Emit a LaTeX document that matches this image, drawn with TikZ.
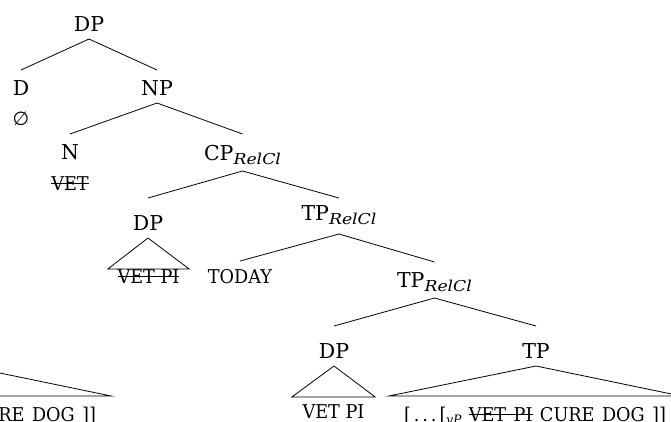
\documentclass[tikz,border=0pt]{standalone}
\usepackage{fontspec}
\setmainfont{DejaVu Serif}
\newfontfamily\symfont{DejaVu Sans}
\newsavebox\stbox
\newcommand\strk[1]{\sbox\stbox{#1}\rlap{\usebox\stbox}\rule[0.34em]{\wd\stbox}{0.8pt}}
\newcommand\lfnt{\fontsize{19}{22}\selectfont}
\newcommand\lv[1]{\scalebox{0.93}[1]{\lfnt #1}}
\newcommand\ws{\hspace{0.42em}}
\newcommand\sbs[1]{\raisebox{-4pt}{\scalebox{1.15}[1]{\fontsize{15}{16}\selectfont\itshape #1}}}
\newcommand\sbv[1]{\raisebox{-3pt}{\fontsize{13}{14}\selectfont\itshape #1}}
\tikzset{
  lbl/.style={anchor=base, inner sep=0pt, font=\fontsize{20.5}{24}\selectfont},
  lf/.style={anchor=base, inner sep=0pt},
  edge/.style={line width=0.8pt, line join=miter},
}
\begin{document}
\begin{tikzpicture}[x=1pt, y=-1pt]
\useasboundingbox (0,0) rectangle (671,421);
\clip (0,0) rectangle (671,421);
% labels
\node[lbl] (dp0) at (89,31) {DP};
\node[lbl] (d) at (21,95) {D};
\node[lf] (null) at (21,125) {\symfont\fontsize{19}{22}\selectfont ∅};
\node[lbl] (np) at (157,95) {NP};
\node[lbl] (n) at (70,159) {N};
\node[lf] (vet) at (70,190) {\lv{\strk{VET}}};
\node[lbl] (cp) at (242.5,160) {CP\sbs{RelCl}};
\node[lbl] (dp1) at (148,230) {DP};
\node[lf, minimum width=81pt] (vetpi1) at (148.5,283) {\lv{\strk{VET PI}}};
\node[lbl] (tp1) at (339,220) {TP\sbs{RelCl}};
\node[lf] (today) at (240,283) {\lv{TODAY}};
\node[lbl] (tp2) at (434.5,287) {TP\sbs{RelCl}};
\node[lbl] (dp2) at (334,358) {DP};
\node[lf, minimum width=83pt] (vetpi2) at (333.5,418) {\lv{VET PI}};
\node[lbl] (tp3) at (536,358) {TP};
\node[lf, minimum width=292pt] (cure) at (535,421) {\lv{[\,.\,.\,.\,[\sbv{vP}\ws\strk{VET\ws PI}\ws CURE\ws DOG\ws]]}};
% edges
\draw[edge] (dp0 |- 0,39) -- (d |- 0,70);
\draw[edge] (dp0 |- 0,39) -- (np |- 0,70);
\draw[edge] (np |- 0,103) -- (n |- 0,134);
\draw[edge] (np |- 0,103) -- (cp |- 0,134);
\draw[edge] (cp |- 0,171) -- (dp1 |- 0,198);
\draw[edge] (cp |- 0,171) -- (tp1 |- 0,198);
\draw[edge] (tp1 |- 0,234) -- (today |- 0,261);
\draw[edge] (tp1 |- 0,234) -- (tp2 |- 0,262);
\draw[edge] (tp2 |- 0,298) -- (dp2 |- 0,326);
\draw[edge] (tp2 |- 0,298) -- (tp3 |- 0,326);
% triangles
\draw[edge] (dp1 |- 0,238) -- (vetpi1.west |- 0,269) -- (vetpi1.east |- 0,269) -- cycle;
\draw[edge] (dp2 |- 0,366) -- (vetpi2.west |- 0,397) -- (vetpi2.east |- 0,397) -- cycle;
\draw[edge] (tp3 |- 0,366) -- (cure.west |- 0,396) -- (cure.east |- 0,396) -- cycle;
% fragment at the left edge
\begin{scope}[xshift=-570pt]
\coordinate (apx) at (536,366);
\node[lf, minimum width=292pt] (cure2) at (535,421) {\lv{[\,.\,.\,.\,[\sbv{vP}\ws\strk{VET\ws PI}\ws CURE\ws DOG\ws]]}};
\draw[edge] (apx) -- (cure2.west |- 0,396) -- (cure2.east |- 0,396) -- cycle;
\end{scope}
\end{tikzpicture}
\end{document}
